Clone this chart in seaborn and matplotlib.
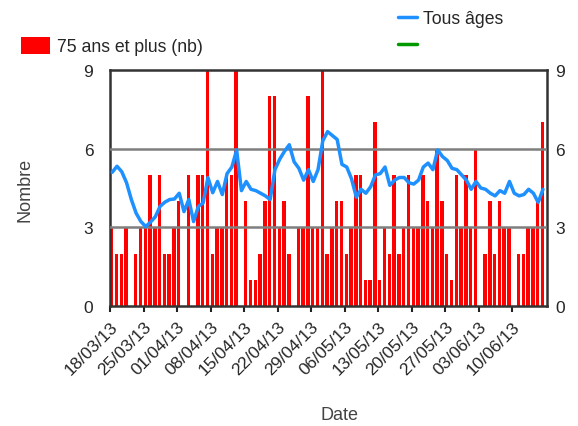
import numpy as np
import pandas as pd
import matplotlib
matplotlib.use('Agg')
import matplotlib.pyplot as plt
import seaborn as sns
from matplotlib.patches import Patch
from matplotlib.lines import Line2D

# nombre journalier, 75 ans et plus, du 18/03/13 au 16/06/13
n75 = [3, 2, 2, 3, 0, 2, 3, 3, 5, 3, 5, 2, 2, 3, 4,
       0, 5, 0, 5, 5, 9, 2, 3, 3, 5, 5, 9, 0, 4, 1,
       1, 2, 4, 8, 8, 3, 4, 2, 0, 3, 3, 8, 3, 3, 9,
       2, 3, 4, 4, 2, 3, 5, 5, 1, 1, 7, 1, 3, 2, 5,
       2, 3, 5, 3, 3, 5, 4, 3, 6, 4, 2, 1, 5, 3, 5,
       3, 6, 0, 2, 4, 2, 4, 3, 3, 0, 2, 2, 3, 3, 4, 7]
# tous ages (meme echelle)
tous_ages = [5.1, 5.33, 5.12, 4.7, 4.06, 3.54, 3.22, 3.03, 3.2, 3.4, 3.8, 3.96, 4.06, 4.08, 4.3,
             3.6, 4.06, 3.22, 3.8, 3.93, 4.9, 4.32, 4.75, 4.25, 5.05, 5.3, 5.95, 4.4, 4.75, 4.45,
             4.4, 4.3, 4.2, 4.06, 5.2, 5.6, 5.9, 6.15, 5.5, 5.25, 4.8, 5.2, 4.75, 5.2, 6.3,
             6.65, 6.5, 6.35, 5.4, 5.3, 4.85, 4.15, 4.45, 4.3, 4.55, 5.0, 5.05, 5.3, 4.6, 4.8,
             4.9, 4.9, 4.7, 4.65, 4.8, 5.3, 5.45, 5.2, 5.95, 5.7, 5.55, 5.25, 5.2, 5.0, 4.8,
             4.45, 4.75, 4.5, 4.45, 4.3, 4.2, 4.4, 4.3, 4.75, 4.3, 4.2, 4.25, 4.45, 4.3, 3.95, 4.45]

dates = pd.date_range('2013-03-18', periods=len(n75), freq='D')
tick_idx = list(range(0, len(n75), 7))
tick_labels = [d.strftime('%d/%m/%y') for d in dates[tick_idx]]

df = pd.DataFrame({'jour': np.arange(len(n75)), 'n75': n75, 'tous': tous_ages})

sns.set_style('white')
plt.rcParams['font.family'] = ['Liberation Sans', 'DejaVu Sans']

fig = plt.figure(figsize=(5.78, 4.27), dpi=100)
ax = fig.add_axes([110/578, 120/427, 437/578, 236/427])

# barres categorielles : une par jour, centrees sur l'indice du jour
sns.barplot(data=df, x='jour', y='n75', order=list(df['jour']), color='#ff0000',
            saturation=1, width=0.72, errorbar=None, ax=ax, zorder=1,
            edgecolor='none', linewidth=0)
for yv in (3, 6):
    ax.axhline(yv, color='#7f7f7f', lw=1.8, zorder=3)
sns.lineplot(x=df['jour'] + 0.1, y=df['tous'], color='#1e90ff', lw=2.5, ax=ax, zorder=4)

ax.set_xlim(-0.36, 90.94)
ax.set_ylim(0, 9)
ax.set_yticks([0, 3, 6, 9])
ax.set_xticks([i - 0.36 for i in tick_idx])
ax.set_xticklabels(tick_labels, rotation=45, ha='right', va='top', rotation_mode='anchor')
ax.tick_params(axis='x', direction='out', length=4, width=1.5, color='#222222',
               labelsize=12.5, pad=5, bottom=True)
ax.tick_params(axis='y', length=0, pad=12, labelsize=12.5)
for s in ax.spines.values():
    s.set_visible(True)
    s.set_color('#333333')
    s.set_linewidth(1.8)

ax2 = ax.twinx()
ax2.set_ylim(0, 9)
ax2.set_yticks([0, 3, 6, 9])
ax2.tick_params(axis='y', length=0, pad=6, labelsize=12.5)
for s in ax2.spines.values():
    s.set_visible(False)

ax.set_xlabel('Date', fontsize=13, color='#444444')
ax.set_ylabel('Nombre', fontsize=13, color='#444444')
ax.xaxis.set_label_coords(0.526, -0.424)
ax.yaxis.set_label_coords(-0.176, 0.496)

fig.legend(handles=[Patch(facecolor='#ff0000', edgecolor='none')],
           labels=['75 ans et plus (nb)'], loc='center left',
           bbox_to_anchor=(21/578, 1 - 47/427), frameon=False, fontsize=12.7,
           handlelength=1.65, handleheight=1.14, handletextpad=0.4,
           borderpad=0, borderaxespad=0)
fig.legend(handles=[Line2D([], [], color='#1e90ff', lw=2.5),
                    Line2D([], [], color='#009900', lw=2.5)],
           labels=['Tous âges', ' '], loc='center left',
           bbox_to_anchor=(398/578, 1 - 33/427), frameon=False, fontsize=12.7,
           handlelength=1.08, handletextpad=0.34, labelspacing=0.6,
           borderpad=0, borderaxespad=0)

fig.savefig('out.png', dpi=100)
